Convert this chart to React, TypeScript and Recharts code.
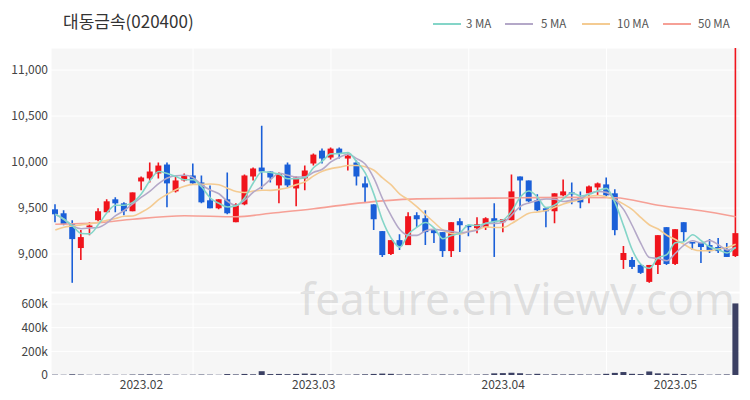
import React from 'react';
import { ComposedChart, Bar, Line, XAxis, YAxis, CartesianGrid } from 'recharts';

const dates = [
  '2023-01-16','2023-01-17','2023-01-18','2023-01-19','2023-01-20','2023-01-25','2023-01-26','2023-01-27','2023-01-30','2023-01-31',
  '2023-02-01','2023-02-02','2023-02-03','2023-02-06','2023-02-07','2023-02-08','2023-02-09','2023-02-10','2023-02-13','2023-02-14',
  '2023-02-15','2023-02-16','2023-02-17','2023-02-20','2023-02-21','2023-02-22','2023-02-23','2023-02-24','2023-02-27','2023-02-28',
  '2023-03-02','2023-03-03','2023-03-06','2023-03-07','2023-03-08','2023-03-09','2023-03-10','2023-03-13','2023-03-14','2023-03-15',
  '2023-03-16','2023-03-17','2023-03-20','2023-03-21','2023-03-22','2023-03-23','2023-03-24','2023-03-27','2023-03-28','2023-03-29',
  '2023-03-30','2023-03-31','2023-04-03','2023-04-04','2023-04-05','2023-04-06','2023-04-07','2023-04-10','2023-04-11','2023-04-12',
  '2023-04-13','2023-04-14','2023-04-17','2023-04-18','2023-04-19','2023-04-20','2023-04-21','2023-04-24','2023-04-25','2023-04-26',
  '2023-04-27','2023-04-28','2023-05-02','2023-05-03','2023-05-04','2023-05-08','2023-05-09','2023-05-10','2023-05-11','2023-05-12',
];

const opens = [
  9486, 9443, 9324, 9065, 9290, 9368, 9454, 9595, 9551, 9465,
  9789, 9822, 9876, 9973, 9681, 9800, 9854, 9778, 9584, 9497,
  9595, 9346, 9540, 9843, 9940, 9897, 9746, 9973, 9713, 9822,
  9984, 10124, 10049, 10146, 10038, 9995, 9768, 9540, 9249, 9000,
  9151, 9097, 9422, 9389, 9270, 9238, 9032, 9357, 9313, 9281,
  9292, 9389, 9346, 9368, 9843, 9800, 9584, 9497, 9465, 9638,
  9670, 9616, 9660, 9724, 9757, 9660, 8935, 8935, 8881, 8697,
  8881, 9292, 8892, 9346, 9130, 9119, 9097, 9076, 9054, 8978,
];
const highs = [
  9540, 9476, 9368, 9260, 9346, 9497, 9595, 9616, 9562, 9670,
  9843, 9995, 9995, 9995, 9843, 9876, 9984, 9854, 9746, 9595,
  9886, 9551, 9865, 9940, 10395, 9897, 9886, 9995, 9843, 9962,
  10092, 10146, 10157, 10157, 10092, 10016, 9843, 9540, 9249, 9151,
  9216, 9454, 9454, 9476, 9270, 9238, 9346, 9389, 9313, 9400,
  9400, 9551, 9378, 9865, 9843, 9800, 9649, 9497, 9660, 9811,
  9778, 9681, 9746, 9778, 9832, 9703, 9086, 8968, 8892, 8881,
  9205, 9292, 9270, 9346, 9130, 9119, 9162, 9173, 9119, 11240,
];
const lows = [
  9346, 9313, 8687, 8935, 9205, 9357, 9454, 9454, 9421, 9465,
  9692, 9778, 9822, 9508, 9670, 9789, 9757, 9551, 9497, 9486,
  9432, 9346, 9530, 9800, 9703, 9778, 9551, 9724, 9519, 9692,
  9962, 9984, 10027, 10038, 9908, 9746, 9562, 9260, 8968, 8990,
  9043, 9097, 9292, 9097, 9119, 8968, 8968, 9022, 9194, 9227,
  9260, 8968, 9238, 9368, 9476, 9562, 9465, 9292, 9335, 9627,
  9540, 9497, 9551, 9638, 9627, 9205, 8838, 8838, 8784, 8687,
  8784, 8881, 8881, 9130, 9043, 8903, 9011, 9011, 8968, 8968,
];
const closes = [
  9432, 9324, 9162, 9184, 9310, 9465, 9573, 9551, 9465, 9670,
  9832, 9897, 9962, 9768, 9800, 9854, 9768, 9562, 9497, 9595,
  9443, 9540, 9854, 9930, 9897, 9832, 9876, 9746, 9832, 9908,
  10081, 10038, 10146, 10092, 10070, 9843, 9724, 9378, 8989, 9151,
  9086, 9411, 9378, 9238, 9227, 9032, 9346, 9313, 9292, 9324,
  9389, 9346, 9378, 9681, 9800, 9573, 9476, 9465, 9660, 9681,
  9649, 9562, 9735, 9768, 9638, 9260, 9011, 8860, 8795, 8881,
  9205, 8892, 9270, 9238, 9119, 9076, 9032, 9032, 8968, 9227,
];
const volumes = [
  3000, 2500, 6000, 4000, 2000, 3000, 3500, 2500, 2000, 4000,
  5000, 6000, 4000, 5000, 3000, 2000, 3000, 4000, 3000, 2000,
  8000, 5000, 9000, 6000, 32000, 8000, 9000, 7000, 9000, 12000,
  10000, 6000, 5000, 4000, 3000, 5000, 6000, 9000, 12000, 10000,
  5000, 6000, 4000, 5000, 3000, 5000, 4000, 5000, 3000, 4000,
  5000, 14000, 16000, 18000, 15000, 6000, 10000, 5000, 6000, 5000,
  6000, 5000, 4000, 5000, 10000, 18000, 25000, 10000, 8000, 30000,
  14000, 12000, 10000, 8000, 4000, 5000, 3000, 4000, 5000, 605000,
];

// 10 MA values for the first days (window not yet full in this range)
const ma10Lead = [9260, 9292, 9306, 9317, 9328, 9346, 9368, 9386, 9411];
// 50 MA at these days
const ma50Days = [0, 5, 9, 15, 21, 25, 30, 34, 38, 42, 48, 54, 60, 65, 70, 75, 79];
const ma50Values = [9324, 9340, 9378, 9416, 9405, 9443, 9492, 9540, 9578, 9600, 9605, 9611, 9616, 9611, 9530, 9470, 9405];

const priceTicks = [9000, 9500, 10000, 10500, 11000];
const volumeTicks = [0, 200000, 400000, 600000];
const monthTickDates = ['2023-02-01', '2023-03-02', '2023-04-03', '2023-05-02'];
const monthTickLabels = ['2023.02', '2023.03', '2023.04', '2023.05'];
const gridDays = [16, 32, 48, 64];

const RED = '#f0141c';
const BLUE = '#1a5fd8';
const C3 = '#84d5c8';
const C5 = '#b4a8c8';
const C10 = '#f4cb92';
const C50 = '#f6a096';
const FONT = '"Noto Sans CJK KR", "Noto Sans", sans-serif';

function movingAverage(values: number[], n: number, lead?: number[]) {
  return values.map((_, i) => {
    if (i < n - 1) {
      if (lead) return lead[i];
      const s = values.slice(0, i + 1);
      return s.reduce((a, b) => a + b, 0) / s.length;
    }
    const s = values.slice(i - n + 1, i + 1);
    return s.reduce((a, b) => a + b, 0) / n;
  });
}

const ma3 = movingAverage(closes, 3);
const ma5 = movingAverage(closes, 5);
const ma10 = movingAverage(closes, 10, ma10Lead);

const data = dates.map((d, i) => {
  const k = ma50Days.indexOf(i);
  return {
    date: d,
    open: opens[i],
    high: highs[i],
    low: lows[i],
    close: closes[i],
    range: [lows[i], highs[i]],
    volume: volumes[i],
    ma3: ma3[i],
    ma5: ma5[i],
    ma10: ma10[i],
    ma50: k >= 0 ? ma50Values[k] : null,
  };
});

const gridDates = gridDays.map((i) => dates[i]);

const Candle = (props: any) => {
  const { x, y, width, height, payload } = props;
  if (!payload) return null;
  const { open, close, high, low } = payload;
  const color = close >= open ? RED : BLUE;
  const top = Math.min(y, y + height);
  const h = Math.abs(height);
  const span = high - low;
  const yOf = (v: number) => (span === 0 ? top : top + ((high - v) / span) * h);
  const cx = x + width / 2;
  const bTop = yOf(Math.max(open, close));
  const bBot = yOf(Math.min(open, close));
  return (
    <g>
      <line x1={cx} x2={cx} y1={top} y2={top + h} stroke={color} strokeWidth={1.6} />
      <rect x={x} y={bTop} width={width} height={Math.max(1.5, bBot - bTop)} fill={color} />
    </g>
  );
};

const tickStyle = { fontSize: 12, fill: '#444', fontFamily: FONT };

const legendItems = [
  { label: '3 MA', color: C3, x1: 433, tx: 466 },
  { label: '5 MA', color: C5, x1: 505, tx: 541 },
  { label: '10 MA', color: C10, x1: 582, tx: 617 },
  { label: '50 MA', color: C50, x1: 663, tx: 698 },
];

export default function App() {
  return (
    <div style={{ position: 'absolute', left: 0, top: 0, width: 750, height: 400, background: '#fff', fontFamily: FONT }}>
      <div style={{ position: 'absolute', left: 0, top: 0 }}>
        <ComposedChart width={750} height={292} data={data} margin={{ top: 48, right: 10, left: 0, bottom: 0 }}>
          <CartesianGrid fill="#f6f6f6" stroke="#ffffff" strokeWidth={1} />
          <XAxis dataKey="date" hide ticks={gridDates} interval={0} />
          <YAxis
            width={51}
            domain={[8587, 11240]}
            ticks={priceTicks}
            allowDataOverflow
            axisLine={false}
            tickLine={false}
            tickSize={0}
            tickMargin={3}
            tick={tickStyle}
            tickFormatter={(v: number) => v.toLocaleString('en-US')}
          />
          <Line type="monotone" dataKey="ma50" stroke={C50} strokeWidth={1.6} dot={false} connectNulls isAnimationActive={false} />
          <Line type="monotone" dataKey="ma10" stroke={C10} strokeWidth={1.6} dot={false} isAnimationActive={false} />
          <Line type="monotone" dataKey="ma5" stroke={C5} strokeWidth={1.6} dot={false} isAnimationActive={false} />
          <Line type="monotone" dataKey="ma3" stroke={C3} strokeWidth={1.6} dot={false} isAnimationActive={false} />
          <Bar dataKey="range" barSize={6} shape={Candle} isAnimationActive={false} />
        </ComposedChart>
      </div>
      <div style={{ position: 'absolute', left: 0, top: 292 }}>
        <ComposedChart width={750} height={108} data={data} margin={{ top: 1, right: 10, left: 0, bottom: 0 }}>
          <CartesianGrid fill="#f6f6f6" stroke="#ffffff" strokeWidth={1} xAxisId="grid" />
          <XAxis xAxisId="grid" dataKey="date" hide ticks={gridDates} interval={0} />
          <XAxis
            dataKey="date"
            height={25}
            ticks={monthTickDates}
            interval={0}
            axisLine={false}
            tickLine={false}
            tickSize={0}
            tickMargin={5}
            tick={tickStyle}
            tickFormatter={(v: string) => monthTickLabels[monthTickDates.indexOf(v)] ?? ''}
          />
          <YAxis
            width={51}
            domain={[0, 693000]}
            ticks={volumeTicks}
            axisLine={false}
            tickLine={false}
            tickSize={0}
            tickMargin={3}
            tick={tickStyle}
            tickFormatter={(v: number) => (v === 0 ? '0' : `${v / 1000}k`)}
          />
          <Bar dataKey="volume" barSize={6} fill="#3b4063" isAnimationActive={false} />
        </ComposedChart>
      </div>
      <svg width={750} height={400} style={{ position: 'absolute', left: 0, top: 0, pointerEvents: 'none' }}>
        <text x={63} y={28} fontSize={17} fill="#333" fontFamily={FONT}>대동금속(020400)</text>
        {legendItems.map((it) => (
          <g key={it.label}>
            <line x1={it.x1} x2={it.x1 + 28} y1={24} y2={24} stroke={it.color} strokeWidth={2} />
            <text x={it.tx} y={28} fontSize={11.5} fill="#555" fontFamily={FONT}>{it.label}</text>
          </g>
        ))}
        <text x={300} y={315} fontSize={44} fill="rgba(170,170,170,0.32)" fontFamily='"Noto Sans", sans-serif' textLength={435}>feature.enViewV.com</text>
      </svg>
    </div>
  );
}
